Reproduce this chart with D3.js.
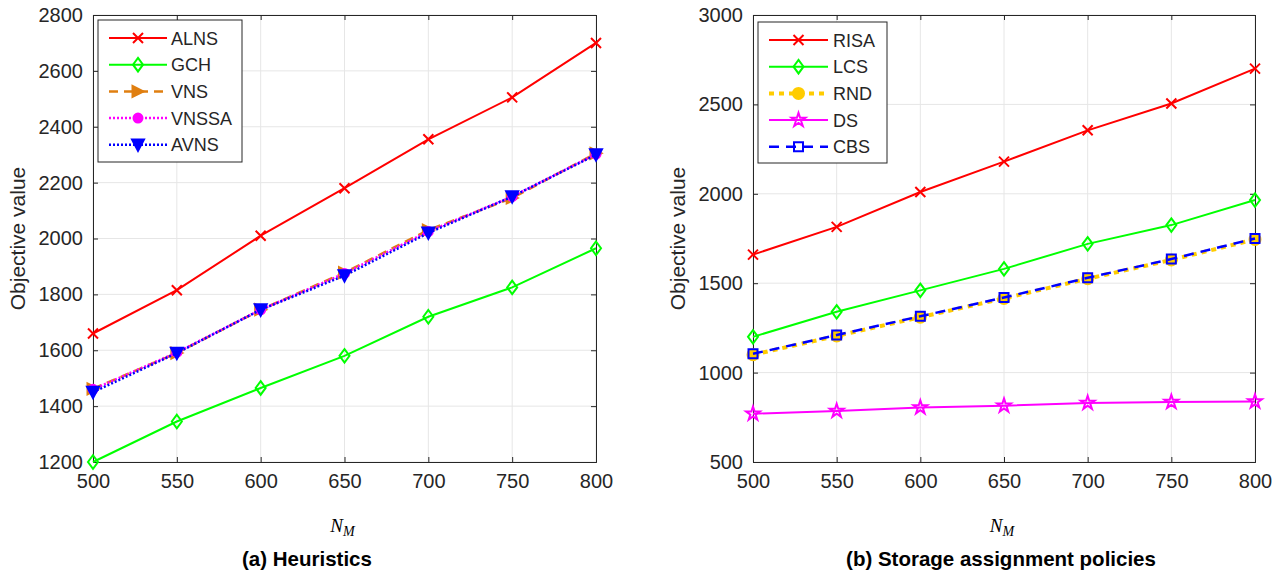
<!DOCTYPE html>
<html>
<head>
<meta charset="utf-8">
<script src="https://cdn.jsdelivr.net/npm/d3@7"></script>
<style>
  body { margin: 0; background: #fff; }
  svg { font-family: "Liberation Sans", Arial, sans-serif; }
</style>
</head>
<body>
<div id="chart"></div>
<script>
const nm = [500, 550, 600, 650, 700, 750, 800]

// (a) heuristics
const alns = [1660, 1815, 2010, 2180, 2355, 2505, 2700]
const gch = [1200, 1345, 1465, 1580, 1720, 1825, 1965]
const vns = [1462, 1590, 1745, 1878, 2030, 2145, 2305]
const vnssa = [1460, 1592, 1745, 1875, 2025, 2150, 2302]
const avns = [1450, 1590, 1745, 1867, 2020, 2150, 2300]

// (b) storage assignment policies
const risa = [1660, 1815, 2010, 2180, 2355, 2505, 2700]
const lcs = [1200, 1340, 1460, 1580, 1720, 1825, 1965]
const rnd = [1100, 1205, 1310, 1415, 1525, 1630, 1745]
const ds = [770, 785, 805, 815, 830, 835, 838]
const cbs = [1105, 1210, 1315, 1420, 1530, 1635, 1750]

const leftTicks = [1200, 1400, 1600, 1800, 2000, 2200, 2400, 2600, 2800]
const rightTicks = [500, 1000, 1500, 2000, 2500, 3000]

const W = 1281, H = 576
const svg = d3.select("#chart").append("svg").attr("width", W).attr("height", H)

function markerPath(type, s) {
  if (type === "x") return `M${-s},${-s}L${s},${s}M${-s},${s}L${s},${-s}`
  if (type === "diamond") return `M0,${-s * 1.35}L${s},0L0,${s * 1.35}L${-s},0Z`
  if (type === "tri-right") return `M${-s},${-s}L${s},0L${-s},${s}Z`
  if (type === "tri-down") return `M${-s},${-s * 0.9}L${s},${-s * 0.9}L0,${s}Z`
  if (type === "square") return `M${-s},${-s}H${s}V${s}H${-s}Z`
  if (type === "circle") return d3.symbol(d3.symbolCircle, Math.PI * s * s)()
  if (type === "star") return d3.symbol(d3.symbolStar, s * s * 3.2)()
}

function drawPanel(cfg) {
  const g = svg.append("g")
  const x = d3.scaleLinear().domain([500, 800]).range([cfg.x0, cfg.x1])
  const y = d3.scaleLinear().domain(cfg.yDomain).range([cfg.y1, cfg.y0])

  // grid
  g.append("g").selectAll("line").data(nm).join("line")
    .attr("x1", d => x(d)).attr("x2", d => x(d)).attr("y1", cfg.y0).attr("y2", cfg.y1)
    .attr("stroke", "#e6e6e6").attr("stroke-width", 1)
  g.append("g").selectAll("line").data(cfg.ticks).join("line")
    .attr("x1", cfg.x0).attr("x2", cfg.x1).attr("y1", d => y(d)).attr("y2", d => y(d))
    .attr("stroke", "#e6e6e6").attr("stroke-width", 1)

  // axes (ticks inside, box on)
  const fmt = d3.format("d")
  const ax = g.append("g").attr("transform", `translate(0,${cfg.y1})`)
    .call(d3.axisBottom(x).tickValues(nm).tickSize(-5).tickPadding(12).tickFormat(fmt))
  const axT = g.append("g").attr("transform", `translate(0,${cfg.y0})`)
    .call(d3.axisTop(x).tickValues(nm).tickSize(-5).tickFormat(""))
  const ay = g.append("g").attr("transform", `translate(${cfg.x0},0)`)
    .call(d3.axisLeft(y).tickValues(cfg.ticks).tickSize(-5).tickPadding(10).tickFormat(fmt))
  const ayR = g.append("g").attr("transform", `translate(${cfg.x1},0)`)
    .call(d3.axisRight(y).tickValues(cfg.ticks).tickSize(-5).tickFormat(""))
  ;[ax, axT, ay, ayR].forEach(a => {
    a.select(".domain").attr("stroke", "#262626").attr("stroke-width", 1)
    a.selectAll(".tick line").attr("stroke", "#262626")
    a.selectAll(".tick text").attr("fill", "#262626").style("font-size", "20px")
      .style("font-family", "Liberation Sans, Arial, sans-serif")
  })

  // series
  cfg.series.forEach(s => {
    const line = d3.line().x((d, i) => x(nm[i])).y(d => y(d))
    g.append("path").datum(s.values).attr("d", line)
      .attr("fill", "none").attr("stroke", s.color).attr("stroke-width", s.width || 2)
      .attr("stroke-dasharray", s.dash || null)
    g.append("g").selectAll("path").data(s.values).join("path")
      .attr("transform", (d, i) => `translate(${x(nm[i])},${y(d)})`)
      .attr("d", markerPath(s.marker, s.size))
      .attr("fill", s.filled ? s.color : "none")
      .attr("stroke", s.color).attr("stroke-width", 2)
  })

  // legend
  const L = cfg.legend
  const lg = g.append("g").attr("transform", `translate(${L.x},${L.y})`)
  lg.append("rect").attr("width", L.w).attr("height", L.h)
    .attr("fill", "#fff").attr("stroke", "#262626").attr("stroke-width", 1)
  cfg.series.forEach((s, i) => {
    const row = lg.append("g").attr("transform", `translate(0,${18 + i * 26.7})`)
    row.append("line").attr("x1", 11).attr("x2", L.lineEnd).attr("y1", 0).attr("y2", 0)
      .attr("stroke", s.color).attr("stroke-width", s.width || 2)
      .attr("stroke-dasharray", s.dash || null)
    row.append("path").attr("transform", `translate(${(11 + L.lineEnd) / 2},0)`)
      .attr("d", markerPath(s.marker, s.size))
      .attr("fill", s.filled ? s.color : "none")
      .attr("stroke", s.color).attr("stroke-width", 2)
    row.append("text").attr("x", L.textX).attr("y", 6.5).text(s.name)
      .style("font-size", "18px").attr("fill", "#262626")
  })

  // labels
  g.append("text").attr("transform", `translate(${cfg.x0 - 68},${(cfg.y0 + cfg.y1) / 2}) rotate(-90)`)
    .attr("text-anchor", "middle").style("font-size", "21px").attr("fill", "#262626")
    .text("Objective value")
  const xl = g.append("text").attr("x", (cfg.x0 + cfg.x1) / 2 - 2).attr("y", 532)
    .attr("text-anchor", "middle").style("font-family", "Liberation Serif, serif")
    .style("font-style", "italic").style("font-size", "19px").attr("fill", "#000")
  xl.append("tspan").text("N")
  xl.append("tspan").attr("dy", 4).style("font-size", "14px").text("M")
  g.append("text").attr("x", cfg.titleX).attr("y", 566).attr("text-anchor", "middle")
    .style("font-size", "20.5px").style("font-weight", "bold").attr("fill", "#000")
    .text(cfg.title)
}

drawPanel({
  x0: 93, x1: 596, y0: 15, y1: 462,
  yDomain: [1200, 2800], ticks: leftTicks,
  legend: {x: 98, y: 20, w: 144, h: 142, lineEnd: 69, textX: 73},
  title: "(a) Heuristics", titleX: 307,
  series: [
    {name: "ALNS", values: alns, color: "#ff0000", marker: "x", size: 5},
    {name: "GCH", values: gch, color: "#00ff00", marker: "diamond", size: 5},
    {name: "VNS", values: vns, color: "#e07f10", marker: "tri-right", size: 5.5, filled: true, dash: "9,6", width: 2.5},
    {name: "VNSSA", values: vnssa, color: "#ff00ff", marker: "circle", size: 4.5, filled: true, dash: "2,2", width: 2.5},
    {name: "AVNS", values: avns, color: "#0000ff", marker: "tri-down", size: 6, filled: true, dash: "2,2", width: 2.5}
  ]
})

drawPanel({
  x0: 753, x1: 1255, y0: 15, y1: 462,
  yDomain: [500, 3000], ticks: rightTicks,
  legend: {x: 758, y: 22, w: 129, h: 141, lineEnd: 70, textX: 75},
  title: "(b) Storage assignment policies", titleX: 1001,
  series: [
    {name: "RISA", values: risa, color: "#ff0000", marker: "x", size: 5},
    {name: "LCS", values: lcs, color: "#00ff00", marker: "diamond", size: 5},
    {name: "RND", values: rnd, color: "#ffcc00", marker: "circle", size: 5.5, filled: true, dash: "5,5", width: 4},
    {name: "DS", values: ds, color: "#ff00ff", marker: "star", size: 4.3},
    {name: "CBS", values: cbs, color: "#0000ff", marker: "square", size: 4.5, dash: "10,7", width: 2.5}
  ]
})
</script>
</body>
</html>
